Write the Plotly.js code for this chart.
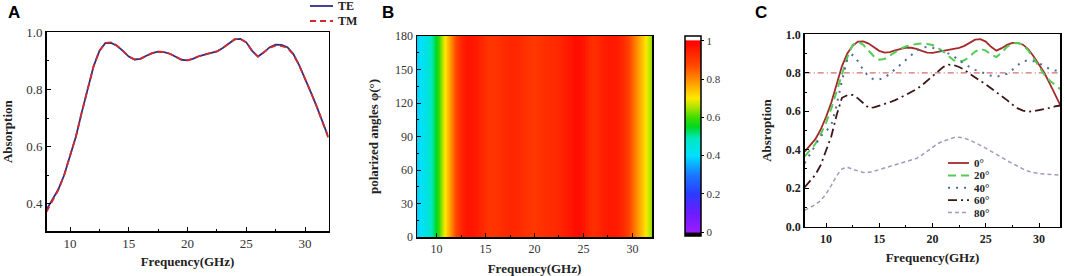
<!DOCTYPE html>
<html><head><meta charset="utf-8">
<script src="https://cdn.plot.ly/plotly-3.0.1.min.js"></script>
<style>html,body{margin:0;padding:0;background:#fff}#chart{width:1065px;height:276px}</style>
</head><body><div id="chart"></div><script>
// ---------- DATA ----------
const freq = [8,8.5,9,9.5,10,10.5,11,11.5,12,12.5,13,13.5,14,14.5,15,15.5,16,16.5,17,17.5,18,18.5,19,19.5,20,20.5,21,21.5,22,22.5,23,23.5,24,24.5,25,25.5,26,26.5,27,27.5,28,28.5,29,29.5,30,30.5,31,31.5,32];
// Panel A
const absTE = [0.380,0.415,0.450,0.500,0.565,0.635,0.720,0.800,0.880,0.935,0.962,0.963,0.953,0.935,0.915,0.905,0.907,0.918,0.927,0.932,0.931,0.925,0.914,0.904,0.902,0.908,0.917,0.922,0.926,0.933,0.945,0.960,0.975,0.977,0.965,0.935,0.915,0.930,0.948,0.957,0.956,0.948,0.925,0.885,0.840,0.790,0.740,0.685,0.632];
const absTM = [0.372,0.410,0.448,0.500,0.565,0.635,0.720,0.800,0.880,0.935,0.963,0.965,0.953,0.935,0.915,0.905,0.907,0.918,0.927,0.932,0.931,0.925,0.914,0.904,0.902,0.908,0.917,0.922,0.926,0.933,0.945,0.960,0.975,0.977,0.965,0.935,0.915,0.930,0.946,0.953,0.952,0.945,0.923,0.885,0.840,0.790,0.740,0.685,0.630];
const namesA = ['TE','TM'];
// Panel B (absorption vs frequency for each polarization angle)
const angles = [0,30,60,90,120,150,180];
const mapAbsorption = absTE;
// Panel C
const abs0  = [0.390,0.420,0.455,0.505,0.570,0.645,0.740,0.835,0.900,0.940,0.962,0.963,0.952,0.933,0.914,0.905,0.907,0.917,0.926,0.931,0.930,0.924,0.914,0.905,0.903,0.908,0.916,0.921,0.925,0.930,0.940,0.955,0.972,0.975,0.962,0.935,0.915,0.928,0.945,0.955,0.955,0.946,0.922,0.885,0.845,0.800,0.745,0.690,0.632];
const abs20 = [0.365,0.395,0.430,0.480,0.540,0.615,0.700,0.790,0.880,0.945,0.962,0.945,0.915,0.885,0.868,0.872,0.890,0.908,0.925,0.937,0.945,0.950,0.952,0.950,0.944,0.930,0.910,0.885,0.865,0.858,0.865,0.885,0.910,0.925,0.915,0.895,0.882,0.905,0.935,0.952,0.955,0.945,0.915,0.875,0.830,0.790,0.760,0.735,0.715];
const abs40 = [0.330,0.375,0.425,0.470,0.495,0.530,0.630,0.760,0.870,0.893,0.860,0.815,0.780,0.765,0.765,0.775,0.795,0.820,0.845,0.870,0.895,0.915,0.930,0.935,0.930,0.920,0.910,0.900,0.885,0.865,0.845,0.830,0.815,0.805,0.795,0.785,0.780,0.785,0.795,0.815,0.840,0.860,0.865,0.860,0.850,0.835,0.820,0.812,0.810];
const abs60 = [0.205,0.240,0.270,0.320,0.390,0.470,0.580,0.670,0.683,0.685,0.667,0.640,0.618,0.620,0.628,0.637,0.647,0.658,0.670,0.685,0.700,0.715,0.735,0.760,0.785,0.810,0.830,0.842,0.840,0.830,0.815,0.795,0.775,0.758,0.740,0.720,0.702,0.680,0.658,0.635,0.615,0.603,0.598,0.600,0.605,0.610,0.618,0.625,0.630];
const abs80 = [0.085,0.100,0.115,0.135,0.170,0.215,0.265,0.300,0.310,0.298,0.288,0.282,0.283,0.288,0.297,0.305,0.313,0.322,0.330,0.336,0.343,0.355,0.372,0.392,0.413,0.432,0.445,0.456,0.463,0.465,0.460,0.450,0.438,0.423,0.408,0.393,0.377,0.360,0.343,0.328,0.313,0.300,0.288,0.280,0.276,0.274,0.272,0.270,0.268];
const namesC = ['0°','20°','40°','60°','80°'];
const refX = [8,32];
const refY = [0.8,0.8];
const cbTickVals = [0,0.2,0.4,0.6,0.8,1];
const cbTickText = ['0','0.2','0.4','0.6','0.8','1'];

// ---------- STYLE ----------
const SERIF = 'Liberation Serif, Times New Roman, serif';
const SANS = 'Liberation Sans, Arial, sans-serif';
const W = 1065, H = 276;
const px = v => v / W, py = v => 1 - v / H;

const ZMIN = -0.02, ZMAX = 1.025;
const stops = [[-0.02,'#000000'],[-0.004,'#000000'],[0.0,'#9b1cff'],[0.1,'#6a1cff'],[0.2,'#2a3cff'],[0.3,'#1a78ff'],[0.4,'#00e0ff'],[0.49,'#00e8c0'],[0.55,'#00d820'],[0.6,'#40dc00'],[0.65,'#a8e400'],[0.7,'#ffe800'],[0.76,'#ffb000'],[0.81,'#ff8000'],[0.87,'#ff4800'],[0.93,'#ff2800'],[1.0,'#ff0000'],[1.004,'#ffffff'],[1.025,'#ffffff']];
const colorscale = stops.map(s => [(s[0]-ZMIN)/(ZMAX-ZMIN), s[1]]);

function ax(opts) {
  return Object.assign({
    showline: true, linecolor: '#000', linewidth: 1.5, mirror: true,
    ticks: 'inside', ticklen: 4, tickwidth: 1, tickcolor: '#000',
    showgrid: false, zeroline: false,
    tickfont: {family: SERIF, size: 12, color: '#333'},
  }, opts);
}
const titleFont = {family: SERIF, size: 13, color: '#222', weight: 700};
const boldTick = {family: SERIF, size: 12, color: '#222', weight: 700};
const tickA = {family: SERIF, size: 13, color: '#333'};

const styleA = [
  {color: '#2e2e86', width: 1.8},
  {color: '#d42a2a', width: 1.8, dash: '6px,4px'},
];
const styleC = [
  {color: '#a52a2a', width: 1.8},
  {color: '#55cc55', width: 2, dash: '8px,5px'},
  {color: '#4a6e9e', width: 2, dash: '2px,6px'},
  {color: '#3c1616', width: 1.8, dash: '9px,4px,2px,4px'},
  {color: '#a899b8', width: 1.5, dash: '4px,3px'},
];
const seriesA = [absTE, absTM];
const seriesC = [abs0, abs20, abs40, abs60, abs80];

const traces = [];
seriesA.forEach((s, i) => traces.push({x: freq, y: s, type: 'scatter', mode: 'lines', name: namesA[i],
  xaxis: 'x', yaxis: 'y', line: styleA[i], showlegend: false}));
traces.push({x: freq, y: angles, z: angles.map(() => mapAbsorption), type: 'heatmap', xaxis: 'x2', yaxis: 'y2',
   zsmooth: 'best', zmin: ZMIN, zmax: ZMAX, colorscale: colorscale, showlegend: false,
   colorbar: {x: px(685), xanchor: 'left', y: py(136), yanchor: 'middle', len: 200, lenmode: 'pixels',
     thickness: 16, thicknessmode: 'pixels', xpad: 0, ypad: 0, outlinewidth: 1.5, outlinecolor: '#000',
     tickvals: cbTickVals, ticktext: cbTickText, ticks: 'outside', ticklen: 3, tickcolor: '#000',
     tickfont: {family: SERIF, size: 11, color: '#333'}}});
traces.push({x: refX, y: refY, type: 'scatter', mode: 'lines', xaxis: 'x3', yaxis: 'y3', showlegend: false,
   line: {color: '#d07070', width: 1.2, dash: '6px,3px,1px,3px'}});
seriesC.forEach((s, i) => traces.push({x: freq, y: s, type: 'scatter', mode: 'lines', name: namesC[i],
  xaxis: 'x3', yaxis: 'y3', line: styleC[i], showlegend: false}));

// hand-built legends (compact row spacing as in the reference)
const shapes = [], annotations = [];
function legendRow(x0, len, y, style, label, fontSize) {
  shapes.push({type: 'line', xref: 'paper', yref: 'paper', x0: px(x0), x1: px(x0 + len), y0: py(y), y1: py(y),
    line: {color: style.color, width: style.width, dash: style.dash || 'solid'}});
  annotations.push({text: label, x: px(x0 + len + 3), y: py(y), xref: 'paper', yref: 'paper', xanchor: 'left', yanchor: 'middle',
    showarrow: false, font: {family: SERIF, size: fontSize, color: '#222', weight: 700}});
}
namesA.forEach((n, i) => legendRow(310, 23, 6 + i * 15, styleA[i], n, 12));
namesC.forEach((n, i) => legendRow(948, 21, 163 + i * 12.4, styleC[i], n, 11));

[['A', 6], ['B', 380], ['C', 753]].forEach(([t, x]) => annotations.push({text: t, x: px(x), y: py(1), xref: 'paper', yref: 'paper',
  xanchor: 'left', yanchor: 'top', showarrow: false, font: {family: SANS, size: 17, color: '#000', weight: 700}}));

const layout = {
  width: W, height: H, margin: {l: 0, r: 0, t: 0, b: 0},
  paper_bgcolor: '#fff', plot_bgcolor: '#fff', showlegend: false,
  xaxis: ax({domain: [px(46.5), px(328.5)], range: [8, 32], dtick: 5, tick0: 0, anchor: 'y', tickfont: tickA,
    minor: {ticks: 'inside', ticklen: 2, dtick: 2.5, tick0: 0, tickcolor: '#000'},
    title: {text: 'Frequency(GHz)', font: titleFont, standoff: 7}}),
  yaxis: ax({domain: [py(231), py(32.3)], range: [0.305, 1.0], tickvals: [0.4,0.6,0.8,1.0], ticktext: ['0.4','0.6','0.8','1.0'], anchor: 'x', tickfont: tickA,
    minor: {ticks: 'inside', ticklen: 2, tickvals: [0.3,0.5,0.7,0.9], tickcolor: '#000'},
    title: {text: 'Absorption', font: titleFont, standoff: 10}}),
  xaxis2: ax({domain: [px(417), px(652)], range: [8, 32], dtick: 5, tick0: 0, anchor: 'y2',
    minor: {ticks: 'inside', ticklen: 2, dtick: 2.5, tick0: 0, tickcolor: '#000'},
    title: {text: 'Frequency(GHz)', font: titleFont, standoff: 10}}),
  yaxis2: ax({domain: [py(237), py(36)], range: [0, 180], dtick: 30, anchor: 'x2',
    minor: {ticks: 'inside', ticklen: 2, dtick: 15, tickcolor: '#000'},
    title: {text: 'polarized angles φ(°)', font: titleFont, standoff: 13}}),
  xaxis3: ax({domain: [px(804.7), px(1060.3)], range: [8, 32], dtick: 5, tick0: 0, anchor: 'y3',
    tickfont: boldTick,
    minor: {ticks: 'inside', ticklen: 2, dtick: 2.5, tick0: 0, tickcolor: '#000'},
    title: {text: 'Frequency(GHz)', font: titleFont, standoff: 8}}),
  yaxis3: ax({domain: [py(226.7), py(34.3)], range: [0, 1.0], dtick: 0.2, tickformat: '.1f', anchor: 'x3',
    tickfont: boldTick,
    minor: {ticks: 'inside', ticklen: 2, dtick: 0.1, tickcolor: '#000'},
    title: {text: 'Absroption', font: titleFont, standoff: 11}}),
  shapes: shapes,
  annotations: annotations,
};

Plotly.newPlot('chart', traces, layout, {displayModeBar: false, staticPlot: true});
</script></body></html>
